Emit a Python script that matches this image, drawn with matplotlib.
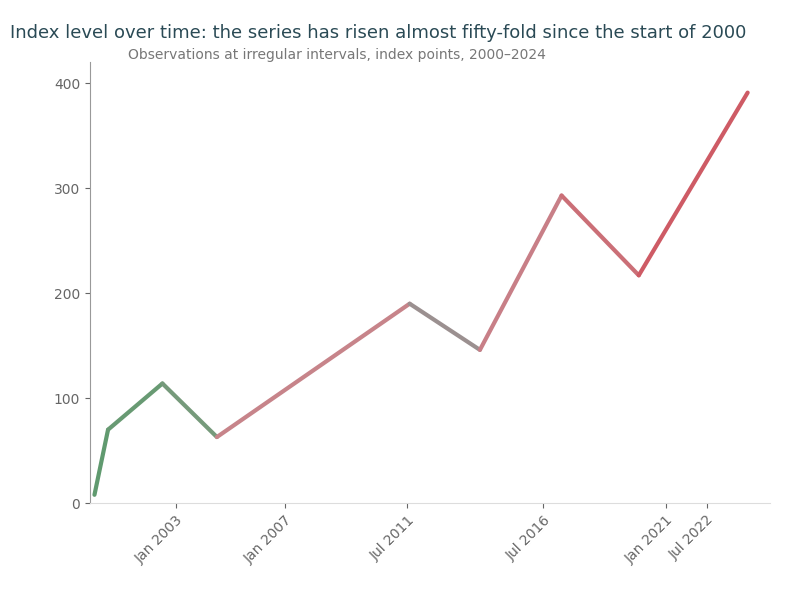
import numpy as np
import pandas as pd
import matplotlib
matplotlib.use("Agg")
import matplotlib.pyplot as plt
import matplotlib.dates as mdates
from matplotlib.collections import LineCollection
from matplotlib.colors import LinearSegmentedColormap

# values (approximate)
dates = pd.to_datetime([
    "2000-01-01", "2000-07-01", "2002-07-01", "2004-07-01",
    "2011-08-01", "2014-03-01", "2017-03-01", "2020-01-01", "2024-01-01",
])
values = [8, 70, 114, 63, 190, 146, 293, 217, 391]
yticks = [0, 100, 200, 300, 400]
tick_dates = pd.to_datetime([
    "2003-01-01", "2007-01-01", "2011-07-01", "2016-07-01", "2021-01-01", "2022-07-01",
])

title = "Index level over time: the series has risen almost fifty-fold since the start of 2000"
subtitle = "Observations at irregular intervals, index points, 2000–2024"

fig = plt.figure(figsize=(8, 5.92), dpi=100)
ax = fig.add_axes([0.1125, 0.15, 0.85, 0.745])

x = mdates.date2num(dates)
y = np.array(values, dtype=float)
pts = np.column_stack([x, y]).reshape(-1, 1, 2)
segs = np.concatenate([pts[:-1], pts[1:]], axis=1)

# green at the start, reddish after the 2004 low
cmap = LinearSegmentedColormap.from_list(
    "gr", [(0, "#5f9a6e"), (0.2, "#7f9a80"), (0.33, "#c8848a"),
           (0.54, "#9a9090"), (0.65, "#c88088"), (1, "#d0505a")]
)
mid = (x[:-1] + x[1:]) / 2
lc = LineCollection(segs, cmap=cmap, linewidth=3, capstyle="round", joinstyle="round")
lc.set_array((mid - x[0]) / (x[-1] - x[0]))
lc.set_clim(0, 1)
ax.add_collection(lc)

ax.set_xlim(x[0] - 60, x[-1] + 300)
ax.set_ylim(0, 420)
ax.set_yticks(yticks)

ax.set_xticks(mdates.date2num(tick_dates))
ax.xaxis.set_major_formatter(mdates.DateFormatter("%b %Y"))
plt.setp(ax.get_xticklabels(), rotation=45, ha="right", rotation_mode="anchor")

for s in ["top", "right"]:
    ax.spines[s].set_visible(False)
ax.spines["left"].set_color("#999999")
ax.spines["bottom"].set_color("#dddddd")
ax.tick_params(colors="#666666", labelsize=10)

fig.text(0.012, 0.935, title, fontsize=13, color="#2a4a55", ha="left")
fig.text(0.16, 0.9, subtitle, fontsize=10, color="#777777", ha="left")

fig.savefig("out.png", dpi=100)
